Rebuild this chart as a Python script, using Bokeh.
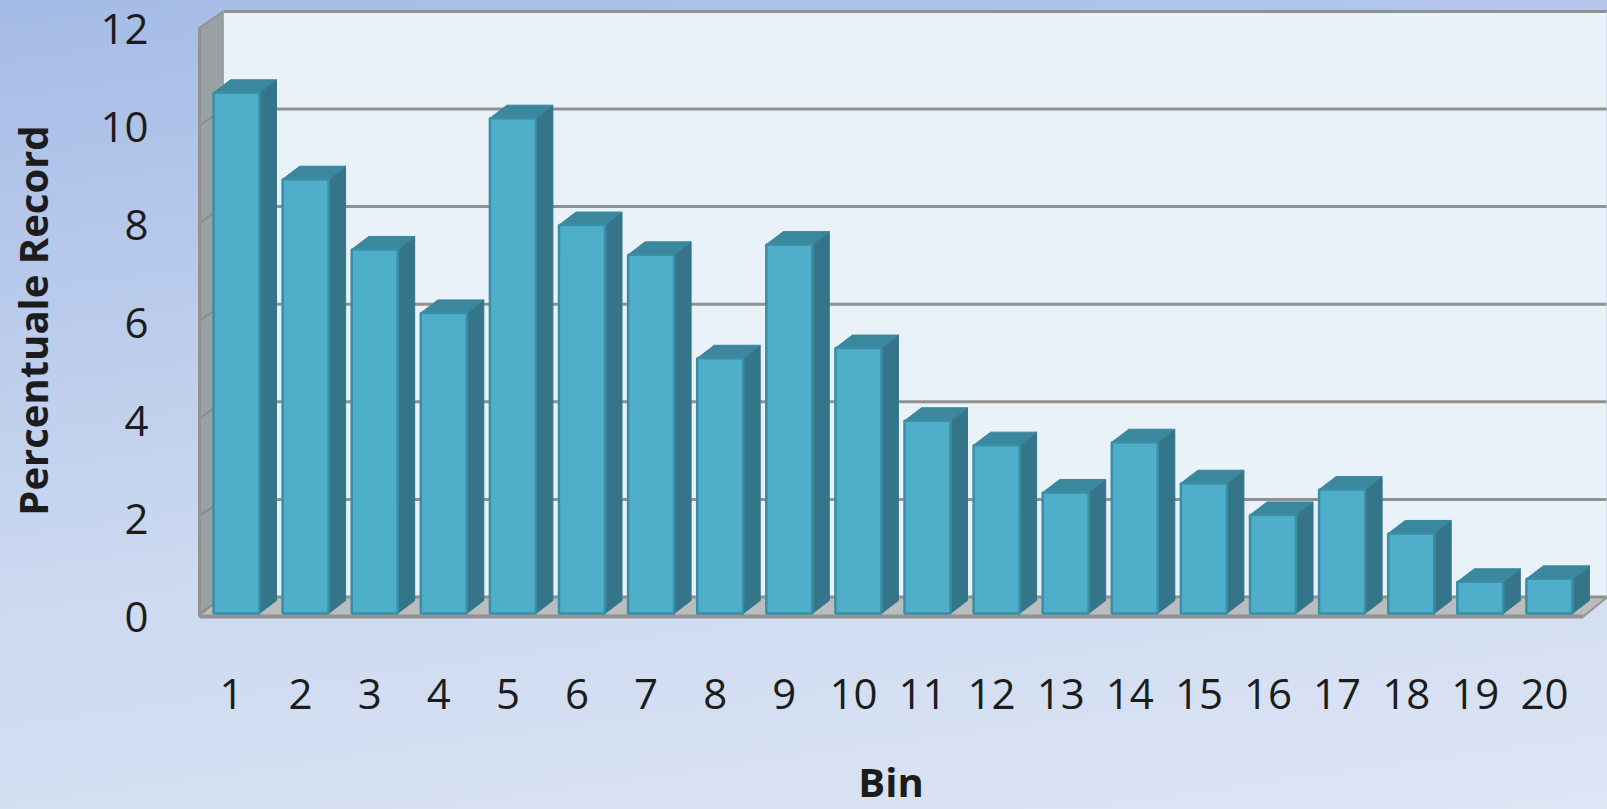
from bokeh.embed import file_html
from bokeh.models import FixedTicker, LinearAxis, Range1d
from bokeh.plotting import figure
from bokeh.resources import INLINE

bins = list(range(1, 21))
values = [10.67, 8.9, 7.46, 6.16, 10.15, 7.96, 7.35, 5.23, 7.56, 5.44,
          3.95, 3.45, 2.48, 3.51, 2.67, 2.02, 2.54, 1.64, 0.65, 0.71]
y_ticks = [0, 2, 4, 6, 8, 10, 12]
x_title = "Bin"
y_title = "Percentuale Record"

FONT = "Open Sans"
W, H = 1607, 809
LEFT, BOTTOM = 174, 169
PX_X, PX_Y = 69.1, 48.8          # pixels per bin, pixels per percent
X0_PX, Y0_PX = 236, 613          # pixel of bin 1 / value 0 on the front plane
xr = Range1d(1 + (LEFT - X0_PX) / PX_X, 1 + (W - X0_PX) / PX_X)
yr = Range1d((Y0_PX - (H - BOTTOM)) / PX_Y, Y0_PX / PX_Y)

p = figure(width=W, height=H, output_backend="svg", toolbar_location=None,
           x_range=xr, y_range=yr, min_border_left=LEFT, min_border_bottom=BOTTOM,
           min_border_top=0, min_border_right=0, frame_width=W - LEFT,
           frame_height=H - BOTTOM, x_axis_type=None, y_axis_type=None,
           background_fill_alpha=0, border_fill_alpha=0,
           styles={"position": "fixed", "left": "0px", "top": "0px",
                   "background": "linear-gradient(172deg,#a4bbe5 0%,#b4c7ea 22%,#cddaf1 60%,#d5dff2 80%,#dde6f5 100%)"})
p.outline_line_color = None
p.xgrid.visible = False
p.ygrid.visible = False

# Offsets of the chart's 3-D box, in data units
wall_dx, wall_dy = 24 / PX_X, 16.5 / PX_Y
bar_dx, bar_dy = 17 / PX_X, 13 / PX_Y
half = 23 / PX_X
x_lo = 1 + (199 - X0_PX) / PX_X
x_hi = 20 + half + 11 / PX_X
floor_y = -3 / PX_Y

# walls and floor
bx0, bx1 = x_lo + wall_dx, x_hi + wall_dx
p.patch([x_lo, bx0, bx0, x_lo], [12, 12 + wall_dy, wall_dy, floor_y], fill_color="#9aa1a3", line_color="#909393", line_width=2)
p.quad(left=bx0, right=bx1, bottom=wall_dy, top=12 + wall_dy, fill_color="#e9f1f9", line_color=None)
p.patch([x_lo, bx0, bx1, x_hi], [floor_y, wall_dy, wall_dy, floor_y], fill_color="#babdbe", line_color=None)
p.segment(x0=[bx0] * len(y_ticks), x1=[bx1] * len(y_ticks),
          y0=[t + wall_dy for t in y_ticks], y1=[t + wall_dy for t in y_ticks],
          line_color="#919191", line_width=3)
p.segment(x0=[x_lo] * 6, x1=[bx0] * 6, y0=y_ticks[:-1], y1=[t + wall_dy for t in y_ticks[:-1]],
          line_color="#8b8b8b", line_width=2)
p.segment(x0=[bx0], x1=[bx0], y0=[wall_dy], y1=[12 + wall_dy], line_color="#a6a8aa", line_width=1)
p.segment(x0=[bx1], x1=[bx1], y0=[wall_dy], y1=[12 + wall_dy], line_color="#c8d4e4", line_width=2)
p.segment(x0=[x_lo], x1=[x_hi], y0=[floor_y], y1=[floor_y], line_color="#929292", line_width=4)
p.segment(x0=[x_lo], x1=[x_lo], y0=[floor_y], y1=[12], line_color="#929292", line_width=3)
p.segment(x0=[x_hi], x1=[bx1], y0=[floor_y], y1=[wall_dy], line_color="#929292", line_width=2)

# bars: side, top, then front
right = [b + half for b in bins]
left = [b - half for b in bins]
p.patches([[r, r + bar_dx, r + bar_dx, r] for r in right],
          [[0, bar_dy, v + bar_dy, v] for v in values],
          fill_color="#35758a", line_color="#35758a", line_width=1)
p.patches([[l, l + bar_dx, r + bar_dx, r] for l, r in zip(left, right)],
          [[v, v + bar_dy, v + bar_dy, v] for v in values],
          fill_color="#3a879e", line_color="#3a879e", line_width=1)
p.vbar(x=bins, top=values, bottom=0, width=2 * half, fill_color="#4fafcb",
       line_color="#3a8ea6", line_width=2.5)

# axes (labels sit a little off the front plane, as in the reference)
p.extra_y_ranges["labels"] = Range1d((616 - (H - BOTTOM)) / 49.0, 616 / 49.0)
p.extra_x_ranges["labels"] = Range1d(1 + (LEFT - 231) / PX_X, 1 + (W - 231) / PX_X)

ya = LinearAxis(y_range_name="labels", ticker=FixedTicker(ticks=y_ticks), axis_label=y_title)
ya.axis_line_color = None
ya.major_tick_line_color = None
ya.minor_tick_line_color = None
ya.major_label_standoff = 20
ya.major_label_text_font = FONT
ya.major_label_text_font_size = "42px"
ya.major_label_text_color = "#1c1c1c"
ya.axis_label_text_font = FONT
ya.axis_label_text_font_size = "40px"
ya.axis_label_text_font_style = "bold"
ya.axis_label_text_color = "#1c1c1c"
ya.axis_label_standoff = 37
p.add_layout(ya, "left")

xa = LinearAxis(x_range_name="labels", ticker=FixedTicker(ticks=bins), axis_label=x_title)
xa.axis_line_color = None
xa.major_tick_line_color = None
xa.minor_tick_line_color = None
xa.major_label_standoff = 32
xa.major_label_text_font = FONT
xa.major_label_text_font_size = "42px"
xa.major_label_text_color = "#1c1c1c"
xa.axis_label_text_font = FONT
xa.axis_label_text_font_size = "40px"
xa.axis_label_text_font_style = "bold"
xa.axis_label_text_color = "#1c1c1c"
xa.axis_label_standoff = 42
p.add_layout(xa, "below")

open("out.html", "w").write(file_html(p, INLINE))
